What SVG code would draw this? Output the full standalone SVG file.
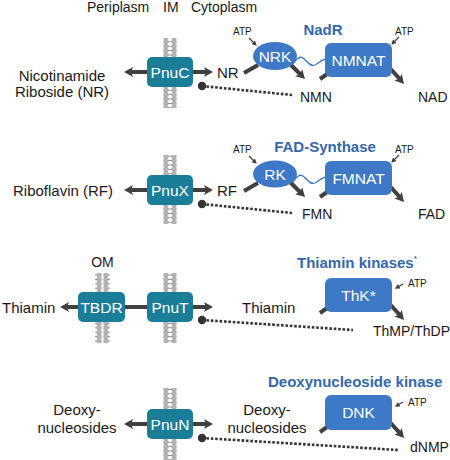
<svg xmlns="http://www.w3.org/2000/svg" width="450" height="460" viewBox="0 0 450 460">
<style>
text{font-family:"Liberation Sans",Arial,sans-serif;fill:#1a1a1a}
.lab{font-size:15px}
.top{font-size:14px}
.atp{font-size:10px}
.hd{font-size:15px;font-weight:bold;fill:#3567ab}
.bx{font-size:15.5px;fill:#ffffff;text-anchor:middle}
.tr{fill:#1b7e98}
.enz{fill:#3d79c6}
.thick{stroke:#404040;stroke-width:4;fill:none}
.thin{stroke:#404040;stroke-width:1.2;fill:none}
.dot{stroke:#333;stroke-width:2.6;stroke-dasharray:2.6 1.8;fill:none}
.wave{stroke:#3d79c6;stroke-width:1.3;fill:none}
</style>
<defs>
<marker id="ah" viewBox="0 0 9 10" refX="4" refY="5" markerWidth="9" markerHeight="10" markerUnits="userSpaceOnUse" orient="auto-start-reverse">
<path d="M0,0 L9,5 L0,10 L2,5 z" fill="#404040"/>
</marker>
<marker id="sa" viewBox="0 0 6 6" refX="3" refY="3" markerWidth="5" markerHeight="5" markerUnits="userSpaceOnUse" orient="auto">
<path d="M0,0 L6,3 L0,6 z" fill="#404040"/>
</marker>
<pattern id="mp" patternUnits="userSpaceOnUse" x="162.5" y="0" width="15" height="4.4">
<line x1="5" y1="2.2" x2="10" y2="2.2" stroke="#8a8a8a" stroke-width="0.9"/>
<circle cx="3.4" cy="2.2" r="2.2" fill="#b8b8b8" stroke="#808080" stroke-width="0.6"/>
<circle cx="11.6" cy="2.2" r="2.2" fill="#b8b8b8" stroke="#808080" stroke-width="0.6"/>
</pattern>
</defs>

<g id="labels-top">
<text class="top" x="87" y="12">Periplasm</text>
<text class="top" x="163" y="12">IM</text>
<text class="top" x="191" y="12">Cytoplasm</text>
<text class="top" x="102.5" y="267" text-anchor="middle">OM</text>
</g>

<g id="membranes">
<rect x="162.5" y="38" width="15" height="70" fill="url(#mp)"/>
<rect x="162.5" y="155" width="15" height="69" fill="url(#mp)"/>
<rect x="162.5" y="273" width="15" height="70" fill="url(#mp)"/>
<rect x="95" y="273" width="15" height="70" fill="url(#mp)"/>
<rect x="162.5" y="388" width="15" height="72" fill="url(#mp)"/>
</g>

<g id="connectors">
<!-- row 1 -->
<line class="thick" x1="129" y1="72" x2="208" y2="72" marker-start="url(#ah)" marker-end="url(#ah)"/>
<path class="dot" d="M202,86 L292,95"/>
<circle cx="202" cy="86" r="4.2" fill="#333"/>
<line class="thick" x1="244" y1="73" x2="258" y2="65"/>
<line class="thick" x1="290" y1="64" x2="301.5" y2="75.5" marker-end="url(#ah)"/>
<line class="thick" x1="320" y1="79" x2="330" y2="72"/>
<line class="thick" x1="388" y1="66" x2="400.7" y2="80.2" marker-end="url(#ah)"/>
<path class="wave" d="M293,64 C297,58 300,56 303,58 C307,61 310,67 315,65 C319,63 322,59 327,59"/>
<line class="thin" x1="249" y1="38" x2="255" y2="44" marker-end="url(#sa)"/>
<line class="thin" x1="399" y1="37" x2="393" y2="43" marker-end="url(#sa)"/>
<!-- row 2 -->
<line class="thick" x1="129" y1="190" x2="208" y2="190" marker-start="url(#ah)" marker-end="url(#ah)"/>
<path class="dot" d="M202,204 L292,213"/>
<circle cx="202" cy="204" r="4.2" fill="#333"/>
<line class="thick" x1="244" y1="191" x2="258" y2="183"/>
<line class="thick" x1="290" y1="182" x2="301.5" y2="193.5" marker-end="url(#ah)"/>
<line class="thick" x1="320" y1="197" x2="330" y2="190"/>
<line class="thick" x1="388" y1="184" x2="400.7" y2="198.2" marker-end="url(#ah)"/>
<path class="wave" d="M293,182 C297,176 300,174 303,176 C307,179 310,185 315,183 C319,181 322,177 327,177"/>
<line class="thin" x1="249" y1="156" x2="255" y2="162" marker-end="url(#sa)"/>
<line class="thin" x1="399" y1="155" x2="393" y2="161" marker-end="url(#sa)"/>
<!-- row 3 -->
<line class="thick" x1="65" y1="307" x2="208" y2="307" marker-start="url(#ah)" marker-end="url(#ah)"/>
<path class="dot" d="M202,320 L353,330"/>
<circle cx="202" cy="320" r="4.2" fill="#333"/>
<line class="thick" x1="320" y1="313" x2="330" y2="306"/>
<line class="thick" x1="388" y1="302" x2="400.7" y2="316.2" marker-end="url(#ah)"/>
<line class="thin" x1="403" y1="284" x2="397" y2="287.5" marker-end="url(#sa)"/>
<!-- row 4 -->
<line class="thick" x1="129" y1="424" x2="208" y2="424" marker-start="url(#ah)" marker-end="url(#ah)"/>
<path class="dot" d="M202,438 L398,450"/>
<circle cx="202" cy="438" r="4.2" fill="#333"/>
<line class="thick" x1="320" y1="432" x2="330" y2="425"/>
<line class="thick" x1="388" y1="420" x2="400.7" y2="434.2" marker-end="url(#ah)"/>
<line class="thin" x1="403" y1="402" x2="397" y2="405.5" marker-end="url(#sa)"/>
</g>

<g id="row1">
<text class="lab" x="62" y="81" text-anchor="middle">Nicotinamide</text>
<text class="lab" x="62" y="97" text-anchor="middle">Riboside (NR)</text>
<g id="PnuC"><rect class="tr" x="147" y="57" width="46" height="30" rx="5"/><text class="bx" x="170" y="77.5">PnuC</text></g>
<text class="lab" x="217" y="77.5">NR</text>
<text class="hd" x="323" y="35" text-anchor="middle">NadR</text>
<text class="atp" x="233" y="35">ATP</text>
<text class="atp" x="395" y="35">ATP</text>
<g id="NRK"><ellipse class="enz" cx="275" cy="56" rx="22" ry="14"/><text class="bx" x="275" y="61.5">NRK</text></g>
<g id="NMNAT"><rect class="enz" x="325" y="43" width="67" height="34" rx="6"/><text class="bx" x="358.5" y="65.5">NMNAT</text></g>
<text class="lab" x="300" y="102" style="font-size:14px">NMN</text>
<text class="lab" x="418" y="102" style="font-size:14px">NAD</text>
</g>

<g id="row2">
<text class="lab" x="63" y="196" text-anchor="middle">Riboflavin (RF)</text>
<g id="PnuX"><rect class="tr" x="147" y="175" width="46" height="30" rx="5"/><text class="bx" x="170" y="195.5">PnuX</text></g>
<text class="lab" x="217" y="195.5">RF</text>
<text class="hd" x="325" y="152" text-anchor="middle">FAD-Synthase</text>
<text class="atp" x="233" y="153">ATP</text>
<text class="atp" x="395" y="153">ATP</text>
<g id="RK"><ellipse class="enz" cx="275" cy="174" rx="22" ry="13.5"/><text class="bx" x="275" y="179.5">RK</text></g>
<g id="FMNAT"><rect class="enz" x="325" y="161" width="67" height="34" rx="6"/><text class="bx" x="358.5" y="183.5">FMNAT</text></g>
<text class="lab" x="302" y="219" style="font-size:14px">FMN</text>
<text class="lab" x="418" y="219" style="font-size:14px">FAD</text>
</g>

<g id="row3">
<text class="lab" x="2" y="313">Thiamin</text>
<g id="TBDR"><rect class="tr" x="78" y="292" width="47" height="30" rx="5"/><text class="bx" x="101.5" y="312.5">TBDR</text></g>
<g id="PnuT"><rect class="tr" x="147" y="292" width="46" height="30" rx="5"/><text class="bx" x="170" y="312.5">PnuT</text></g>
<text class="lab" x="242" y="313">Thiamin</text>
<text class="hd" x="297" y="268">Thiamin kinases<tspan style="font-size:8px" dy="-7">*</tspan></text>
<g id="ThK"><rect class="enz" x="325" y="278" width="67" height="34" rx="6"/><text class="bx" x="358.5" y="300.5">ThK*</text></g>
<text class="atp" x="408" y="287">ATP</text>
<text class="lab" x="373" y="336" style="font-size:14px">ThMP/ThDP</text>
</g>

<g id="row4">
<text class="lab" x="77" y="415" text-anchor="middle">Deoxy-</text>
<text class="lab" x="77" y="433" text-anchor="middle">nucleosides</text>
<g id="PnuN"><rect class="tr" x="147" y="409" width="46" height="30" rx="5"/><text class="bx" x="170" y="429.5">PnuN</text></g>
<text class="lab" x="267" y="415" text-anchor="middle">Deoxy-</text>
<text class="lab" x="267" y="433" text-anchor="middle">nucleosides</text>
<text class="hd" x="268" y="387">Deoxynucleoside kinase</text>
<g id="DNK"><rect class="enz" x="325" y="395" width="67" height="35" rx="6"/><text class="bx" x="358.5" y="418">DNK</text></g>
<text class="atp" x="408" y="406">ATP</text>
<text class="lab" x="410" y="452" style="font-size:14px">dNMP</text>
</g>
</svg>
